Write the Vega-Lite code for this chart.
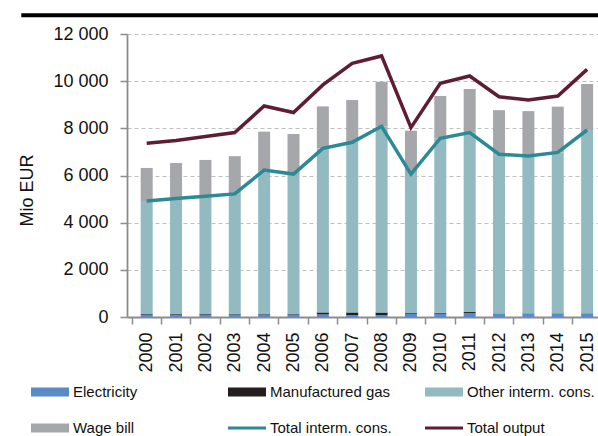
{
  "$schema": "https://vega.github.io/schema/vega-lite/v6.json",
  "width": 471,
  "height": 283,
  "autosize": {"type": "none"},
  "padding": {"left": 127, "top": 34, "right": 0, "bottom": 119},
  "background": "white",
  "config": {
    "view": {"stroke": null},
    "font": "Liberation Sans",
    "axis": {"domainColor": "#8c8c8c", "domainWidth": 1.8, "tickColor": "#8c8c8c", "tickWidth": 1.5, "tickSize": 7, "labelColor": "#111111", "labelFontSize": 18, "titleColor": "#111111", "titleFontSize": 18, "titleFontWeight": "normal"},
    "axisX": {"labelOverlap": false, "labelFlush": false}
  },
  "datasets": {
    "bars": [
      {"year": 2000, "series": "Electricity", "value": 100},
      {"year": 2001, "series": "Electricity", "value": 100},
      {"year": 2002, "series": "Electricity", "value": 100},
      {"year": 2003, "series": "Electricity", "value": 90},
      {"year": 2004, "series": "Electricity", "value": 90},
      {"year": 2005, "series": "Electricity", "value": 90},
      {"year": 2006, "series": "Electricity", "value": 110},
      {"year": 2007, "series": "Electricity", "value": 85},
      {"year": 2008, "series": "Electricity", "value": 85},
      {"year": 2009, "series": "Electricity", "value": 140},
      {"year": 2010, "series": "Electricity", "value": 140},
      {"year": 2011, "series": "Electricity", "value": 170},
      {"year": 2012, "series": "Electricity", "value": 125},
      {"year": 2013, "series": "Electricity", "value": 130},
      {"year": 2014, "series": "Electricity", "value": 130},
      {"year": 2015, "series": "Electricity", "value": 130},
      {"year": 2000, "series": "Manufactured gas", "value": 30},
      {"year": 2001, "series": "Manufactured gas", "value": 30},
      {"year": 2002, "series": "Manufactured gas", "value": 30},
      {"year": 2003, "series": "Manufactured gas", "value": 30},
      {"year": 2004, "series": "Manufactured gas", "value": 30},
      {"year": 2005, "series": "Manufactured gas", "value": 30},
      {"year": 2006, "series": "Manufactured gas", "value": 85},
      {"year": 2007, "series": "Manufactured gas", "value": 110},
      {"year": 2008, "series": "Manufactured gas", "value": 110},
      {"year": 2009, "series": "Manufactured gas", "value": 30},
      {"year": 2010, "series": "Manufactured gas", "value": 40},
      {"year": 2011, "series": "Manufactured gas", "value": 40},
      {"year": 2012, "series": "Manufactured gas", "value": 20},
      {"year": 2013, "series": "Manufactured gas", "value": 20},
      {"year": 2014, "series": "Manufactured gas", "value": 20},
      {"year": 2015, "series": "Manufactured gas", "value": 20},
      {"year": 2000, "series": "Other interm. cons.", "value": 4790},
      {"year": 2001, "series": "Other interm. cons.", "value": 4890},
      {"year": 2002, "series": "Other interm. cons.", "value": 4990},
      {"year": 2003, "series": "Other interm. cons.", "value": 5100},
      {"year": 2004, "series": "Other interm. cons.", "value": 6110},
      {"year": 2005, "series": "Other interm. cons.", "value": 5940},
      {"year": 2006, "series": "Other interm. cons.", "value": 6955},
      {"year": 2007, "series": "Other interm. cons.", "value": 7215},
      {"year": 2008, "series": "Other interm. cons.", "value": 7895},
      {"year": 2009, "series": "Other interm. cons.", "value": 5890},
      {"year": 2010, "series": "Other interm. cons.", "value": 7400},
      {"year": 2011, "series": "Other interm. cons.", "value": 7610},
      {"year": 2012, "series": "Other interm. cons.", "value": 6755},
      {"year": 2013, "series": "Other interm. cons.", "value": 6680},
      {"year": 2014, "series": "Other interm. cons.", "value": 6830},
      {"year": 2015, "series": "Other interm. cons.", "value": 7780},
      {"year": 2000, "series": "Wage bill", "value": 1400},
      {"year": 2001, "series": "Wage bill", "value": 1510},
      {"year": 2002, "series": "Wage bill", "value": 1540},
      {"year": 2003, "series": "Wage bill", "value": 1600},
      {"year": 2004, "series": "Wage bill", "value": 1630},
      {"year": 2005, "series": "Wage bill", "value": 1700},
      {"year": 2006, "series": "Wage bill", "value": 1780},
      {"year": 2007, "series": "Wage bill", "value": 1790},
      {"year": 2008, "series": "Wage bill", "value": 1890},
      {"year": 2009, "series": "Wage bill", "value": 1840},
      {"year": 2010, "series": "Wage bill", "value": 1790},
      {"year": 2011, "series": "Wage bill", "value": 1850},
      {"year": 2012, "series": "Wage bill", "value": 1870},
      {"year": 2013, "series": "Wage bill", "value": 1900},
      {"year": 2014, "series": "Wage bill", "value": 1940},
      {"year": 2015, "series": "Wage bill", "value": 1950}
    ],
    "lines": [
      {"year": 2000, "series": "Total interm. cons.", "value": 4920},
      {"year": 2001, "series": "Total interm. cons.", "value": 5020},
      {"year": 2002, "series": "Total interm. cons.", "value": 5120},
      {"year": 2003, "series": "Total interm. cons.", "value": 5220},
      {"year": 2004, "series": "Total interm. cons.", "value": 6230},
      {"year": 2005, "series": "Total interm. cons.", "value": 6060},
      {"year": 2006, "series": "Total interm. cons.", "value": 7150},
      {"year": 2007, "series": "Total interm. cons.", "value": 7410},
      {"year": 2008, "series": "Total interm. cons.", "value": 8090},
      {"year": 2009, "series": "Total interm. cons.", "value": 6060},
      {"year": 2010, "series": "Total interm. cons.", "value": 7580},
      {"year": 2011, "series": "Total interm. cons.", "value": 7820},
      {"year": 2012, "series": "Total interm. cons.", "value": 6900},
      {"year": 2013, "series": "Total interm. cons.", "value": 6830},
      {"year": 2014, "series": "Total interm. cons.", "value": 6980},
      {"year": 2015, "series": "Total interm. cons.", "value": 7930},
      {"year": 2000, "series": "Total output", "value": 7370},
      {"year": 2001, "series": "Total output", "value": 7480},
      {"year": 2002, "series": "Total output", "value": 7650},
      {"year": 2003, "series": "Total output", "value": 7820},
      {"year": 2004, "series": "Total output", "value": 8950},
      {"year": 2005, "series": "Total output", "value": 8670},
      {"year": 2006, "series": "Total output", "value": 9840},
      {"year": 2007, "series": "Total output", "value": 10760},
      {"year": 2008, "series": "Total output", "value": 11070},
      {"year": 2009, "series": "Total output", "value": 8030},
      {"year": 2010, "series": "Total output", "value": 9910},
      {"year": 2011, "series": "Total output", "value": 10220},
      {"year": 2012, "series": "Total output", "value": 9340},
      {"year": 2013, "series": "Total output", "value": 9200},
      {"year": 2014, "series": "Total output", "value": 9370},
      {"year": 2015, "series": "Total output", "value": 10500}
    ]
  },
  "layer": [
    {
      "data": {"name": "bars"},
      "mark": {"type": "bar", "width": 12},
      "encoding": {
        "x": {
          "field": "year", "type": "quantitative",
          "scale": {"domain": [1999.5, 2015.2], "nice": false, "zero": false},
          "axis": {"title": null, "values": [2000, 2001, 2002, 2003, 2004, 2005, 2006, 2007, 2008, 2009, 2010, 2011, 2012, 2013, 2014, 2015], "format": "d", "labelAngle": -90, "labelOverlap": false, "labelFlush": false, "labelBound": false, "tickOffset": -15, "labelOffset": 15, "labelPadding": 8, "grid": false}
        },
        "y": {
          "field": "value", "type": "quantitative", "stack": "zero",
          "scale": {"domain": [0, 12000], "nice": false},
          "axis": {"title": "Mio EUR", "values": [0, 2000, 4000, 6000, 8000, 10000, 12000], "labelExpr": "replace(format(datum.value, ','), ',', ' ')", "labelPadding": 12, "titlePadding": 16, "titleY": 156, "grid": true, "gridColor": "#bfbfbf", "gridDash": [4, 3], "gridWidth": 1}
        },
        "color": {
          "field": "series", "type": "nominal",
          "sort": ["Electricity", "Manufactured gas", "Other interm. cons.", "Wage bill", "Total interm. cons.", "Total output"],
          "scale": {"domain": ["Electricity", "Manufactured gas", "Other interm. cons.", "Wage bill", "Total interm. cons.", "Total output"], "range": ["#5B8AC8", "#231F20", "#93BAC1", "#A6A7AA", "#2B8A94", "#5F1D34"]},
          "legend": {
            "orient": "none", "legendX": -96, "legendY": 339, "columns": 3, "direction": "horizontal", "title": null,
            "symbolSize": 1444, "labelFontSize": 15, "labelColor": "#111111", "labelOffset": 4, "labelLimit": 250, "columnPadding": 27, "rowPadding": 9, "gridAlign": "all", "padding": 0, "symbolStrokeWidth": 0,
            "encode": {"symbols": {"update": {"shape": {"signal": "(datum.value === 'Total interm. cons.' || datum.value === 'Total output') ? 'M-1,-0.08H1V0.08H-1Z' : 'M-1,-0.24H1V0.24H-1Z'"}, "fill": {"scale": "color", "field": "value"}, "fillOpacity": {"value": 1}, "opacity": {"value": 1}, "strokeWidth": {"value": 0}}}}
          }
        },
        "order": {"field": "series", "sort": "ascending"}
      }
    },
    {
      "data": {"name": "lines"},
      "mark": {"type": "line", "strokeWidth": 3.5},
      "encoding": {
        "x": {
          "field": "year", "type": "quantitative",
          "scale": {"domain": [1999.5, 2015.2], "nice": false, "zero": false},
          "axis": {"title": null, "values": [2000, 2001, 2002, 2003, 2004, 2005, 2006, 2007, 2008, 2009, 2010, 2011, 2012, 2013, 2014, 2015], "format": "d", "labelAngle": -90, "labelOverlap": false, "labelFlush": false, "labelBound": false, "tickOffset": -15, "labelOffset": 15, "labelPadding": 8, "grid": false}
        },
        "y": {"field": "value", "type": "quantitative"},
        "color": {"field": "series", "type": "nominal"}
      }
    },
    {
      "data": {"values": [{}]},
      "mark": {"type": "rule", "strokeWidth": 4, "color": "#000000", "clip": false},
      "encoding": {
        "x": {
          "datum": 1995.73, "type": "quantitative",
          "scale": {"domain": [1999.5, 2015.2], "nice": false, "zero": false},
          "axis": {"title": null, "values": [2000, 2001, 2002, 2003, 2004, 2005, 2006, 2007, 2008, 2009, 2010, 2011, 2012, 2013, 2014, 2015], "format": "d", "labelAngle": -90, "labelOverlap": false, "labelFlush": false, "labelBound": false, "tickOffset": -15, "labelOffset": 15, "labelPadding": 8, "grid": false}
        },
        "x2": {"datum": 2016.5},
        "y": {"datum": 12793, "type": "quantitative"}
      }
    }
  ]
}
